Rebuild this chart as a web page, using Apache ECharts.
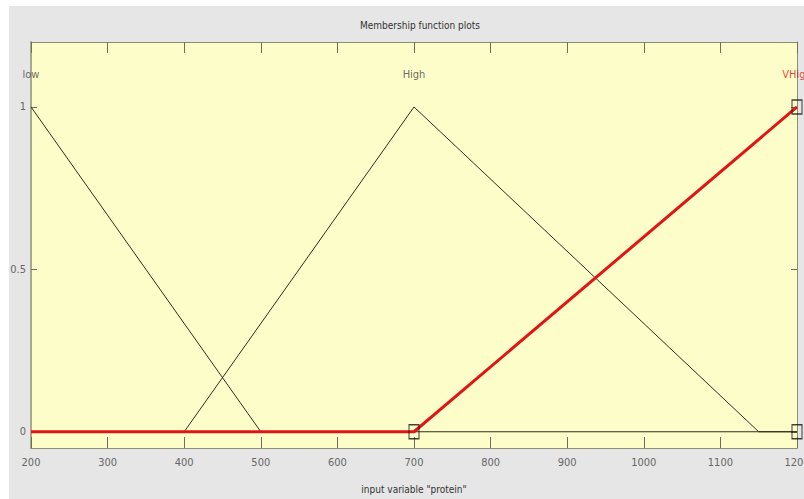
<!DOCTYPE html>
<html>
<head>
<meta charset="utf-8">
<script src="https://cdn.jsdelivr.net/npm/echarts@6/dist/echarts.min.js"></script>
<style>
html,body{margin:0;padding:0;background:#ffffff;}
#c{width:804px;height:499px;}
</style>
</head>
<body>
<div id="c"></div>
<script>
// ---- data ----
var xTicks = [200, 300, 400, 500, 600, 700, 800, 900, 1000, 1100, 1200];
var yTicks = [0, 0.5, 1];
var mfNames = ['low', 'High', 'VHigh'];
var mfLabelX = [200, 700, 1200];
var mfLabelY = 1.1;
var lowMF = [[200, 1], [500, 0], [1200, 0]];
var highMF = [[200, 0], [400, 0], [700, 1], [1150, 0], [1200, 0]];
var vhighMF = [[200, 0], [700, 0], [1200, 1]];
var vhighMarkers = [[700, 0], [1200, 0], [1200, 1]];

var FONT = '"Liberation Sans Narrow","DejaVu Sans Condensed","Liberation Sans",sans-serif';
var chart = echarts.init(document.getElementById('c'), null, {renderer: 'svg'});
var labelData = mfNames.map(function (n, i) {
  return {name: n, value: [mfLabelX[i], mfLabelY],
    label: {color: i === 2 ? '#e01515' : '#444'}};
});
var tickColor = '#6e6e5a';
var option = {
  animation: false,
  backgroundColor: '#ffffff',
  graphic: [
    {type: 'rect', z: -10, silent: true, left: 9, top: 6, shape: {width: 795, height: 493}, style: {fill: '#e6e6e6'}},
    {type: 'text', left: 360, top: 20, style: {text: 'Membership function plots', font: '10px ' + FONT, fill: '#333'}}
  ],
  grid: {left: 31, right: 7, top: 42, height: 406, backgroundColor: '#fdfdc9', show: true, borderWidth: 0,
    outerBoundsMode: 'none', containLabel: false},
  xAxis: [{
    type: 'value', min: 200, max: 1200, interval: 100,
    name: 'input variable "protein"', nameLocation: 'middle', nameGap: 36,
    nameTextStyle: {fontFamily: FONT, fontSize: 10, color: '#333'},
    axisLine: {show: true, onZero: false, lineStyle: {color: '#8c8c78'}},
    axisTick: {show: true, inside: true, length: 11, lineStyle: {color: tickColor, width: 1}},
    axisLabel: {fontFamily: FONT, fontSize: 11, color: '#666', margin: 9,
      formatter: function (v) { return String(v); }},
    splitLine: {show: false}
  }, {
    type: 'value', position: 'top', min: 200, max: 1200, interval: 100,
    axisLine: {show: true, onZero: false, lineStyle: {color: '#8c8c78'}},
    axisTick: {show: true, inside: true, length: 11, lineStyle: {color: tickColor, width: 1}},
    axisLabel: {show: false}, splitLine: {show: false}
  }],
  yAxis: [{
    type: 'value', min: -0.05, max: 1.2,
    axisLine: {show: true, onZero: false, lineStyle: {color: '#a8a898', width: 2}},
    axisTick: {show: true, inside: true, length: 6, customValues: yTicks, lineStyle: {color: tickColor}},
    axisLabel: {customValues: yTicks, fontFamily: FONT, fontSize: 11, color: '#666', margin: 5},
    splitLine: {show: false}
  }, {
    type: 'value', position: 'right', min: -0.05, max: 1.2,
    axisLine: {show: true, onZero: false, lineStyle: {color: '#8c8c78'}},
    axisTick: {show: true, inside: true, length: 6, customValues: yTicks, lineStyle: {color: tickColor}},
    axisLabel: {show: false}, splitLine: {show: false}
  }],
  series: [
    {type: 'line', data: lowMF, symbol: 'none', lineStyle: {color: '#2e2e20', width: 1}, z: 2},
    {type: 'line', data: highMF, symbol: 'none', lineStyle: {color: '#2e2e20', width: 1}, z: 2},
    {type: 'line', data: vhighMF, symbol: 'none', lineStyle: {color: '#e01515', width: 3}, z: 3},
    {type: 'scatter', data: vhighMarkers, symbol: 'rect', symbolSize: [10, 14], z: 4,
      itemStyle: {color: 'rgba(0,0,0,0)', borderColor: '#111', borderWidth: 1.2}},
    {type: 'scatter', data: labelData, symbolSize: 0, z: 5,
      label: {show: true, position: 'inside', formatter: '{b}', fontFamily: FONT, fontSize: 11}}
  ]
};
chart.setOption(option);
</script>
</body>
</html>
